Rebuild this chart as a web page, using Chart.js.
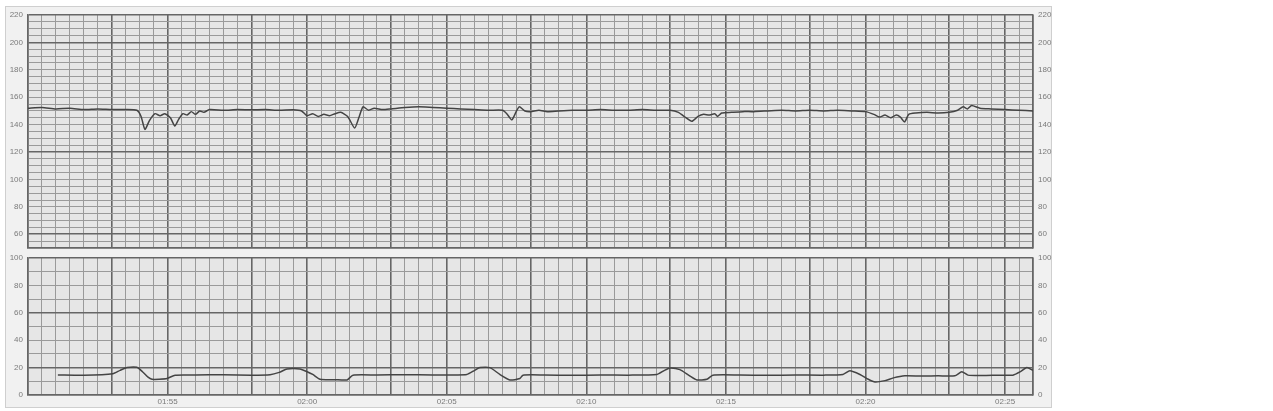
<!DOCTYPE html>
<html>
<head>
<meta charset="utf-8">
<script src="https://cdn.jsdelivr.net/npm/chart.js@4"></script>
<style>
  body { margin: 0; background: #fff; width: 1273px; height: 411px; overflow: hidden; position: relative; }
  #frame { position: absolute; left: 5px; top: 6px; width: 1045px; height: 400px; background: #f1f1f1; border: 1px solid #cfcfcf; }
  canvas { position: absolute; left: 0; }
  #fhr { top: 0; }
  #uc { top: 250px; }
</style>
</head>
<body>
<div id="frame"></div>
<canvas id="fhr" width="1060" height="252"></canvas>
<canvas id="uc" width="1060" height="161"></canvas>
<script>
// minutes from 01:50
const fhrTimes = [0, 0.5, 1, 1.5, 2, 2.5, 3, 3.5, 3.9,
  4.05, 4.19, 4.35, 4.55, 4.73, 4.9, 5.1, 5.26, 5.4, 5.55, 5.7, 5.85, 6.0, 6.15, 6.3, 6.5,
  7, 7.5, 8, 8.5, 9, 9.5, 9.8,
  10.0, 10.2, 10.4, 10.6, 10.8, 11.0, 11.2, 11.45, 11.7, 11.85, 12.0, 12.2, 12.4, 12.7,
  13, 13.5, 14, 14.5, 15, 15.5, 16, 16.5, 17, 17.15,
  17.33, 17.5, 17.6, 17.8, 18, 18.3, 18.6, 19, 19.5, 20, 20.5, 21, 21.5, 22, 22.5, 23, 23.3,
  23.5, 23.78, 24.0, 24.2, 24.4, 24.6, 24.7, 24.85, 25.2, 25.6, 26, 26.5, 27, 27.5, 28, 28.5, 29, 29.5, 30.0,
  30.3, 30.5, 30.7, 30.9, 31.1, 31.25, 31.4, 31.55, 31.8, 32.2, 32.6, 33, 33.3, 33.5, 33.65, 33.8, 34.1, 34.5, 35, 35.5, 36];
const fhrValues = [152, 152.5, 151.5, 152, 151, 151.5, 151, 151, 150.5,
  146, 136.5, 143, 148, 146.5, 148, 145, 139, 144, 148, 147, 149.5, 147.5, 150, 149, 151,
  150.5, 151, 150.8, 151, 150.5, 150.8, 150,
  146.5, 148, 146, 147.5, 146.5, 148, 149, 146, 137.5, 145, 153, 150.5, 152, 151,
  151.5, 152.5, 153, 152.5, 152, 151.5, 151, 150.5, 150.5, 148,
  143.5, 150, 153, 150, 149.5, 150.5, 149.5, 150, 150.5, 150.5, 151, 150.5, 150.5, 151, 150.5, 150.5, 149,
  146, 142.5, 146, 147.5, 147, 148, 146, 148.5, 149, 149.5, 149.5, 150, 150.5, 150, 150.5, 150, 150.5, 150, 149.5,
  147.5, 145.5, 147, 145, 147, 145.5, 142, 147.5, 148.5, 149, 148.5, 149, 150.5, 153, 151.5, 154, 152, 151.5, 151, 150.5, 150];

const ucTimes = [1.07, 2, 3.04, 3.3, 3.55, 3.9, 4.1, 4.3, 4.44, 4.7, 4.98, 5.27,
  6, 7, 8, 8.67, 9.0, 9.28, 9.74, 10.0, 10.2, 10.46, 11.0, 11.43, 11.64,
  12.5, 13.5, 14.5, 15.72, 16.0, 16.19, 16.55, 16.9, 17.26, 17.62, 17.73,
  18.5, 19.5, 20.5, 21.5, 22.53, 22.8, 23.0, 23.35, 23.7, 23.96, 24.32, 24.53,
  25.5, 26.5, 27.5, 28.5, 29.19, 29.44, 29.8, 30.1, 30.34, 30.7, 31.0, 31.41,
  32, 32.6, 33.2, 33.45, 33.67, 34.2, 34.8, 35.28, 35.55, 35.78, 36.0];
const ucValues = [14.6, 14.4, 15.5, 18, 20, 20.2, 17, 13, 11.5, 11.5, 12, 14.5,
  14.6, 14.8, 14.5, 14.8, 16.5, 19, 19, 17, 15, 11.5, 11.2, 11, 14.5,
  14.6, 14.8, 14.6, 15, 18, 20, 20, 15, 11, 12, 14.5,
  14.6, 14.4, 14.6, 14.5, 15, 18, 19.7, 18.5, 14, 11, 11.5, 14.5,
  14.6, 14.4, 14.6, 14.5, 15, 17.7, 15, 11.5, 9.5, 10.5, 12.5, 14,
  13.8, 14, 14, 17, 14.5, 14.2, 14.5, 14.5, 17, 20, 18];

const timeLabelMinutes = [5, 10, 15, 20, 25, 30, 35];
const timeLabels = ['01:55', '02:00', '02:05', '02:10', '02:15', '02:20', '02:25'];
const fhrTicks = [60, 80, 100, 120, 140, 160, 180, 200, 220];
const ucTicks = [0, 20, 40, 60, 80, 100];

const tickFont = { family: 'Liberation Sans', size: 8 };
const tickColor = '#7a7a7a';
const darkLine = '#666666';
const midLine = '#9a9a9a';

function pairs(xs, ys) {
    return xs.map(function(x, i) { return { x: x, y: ys[i] }; });
}

// grey paper behind the grid
const paperBg = {
    id: 'paperBg',
    beforeDraw: function(chart) {
        const a = chart.chartArea, ctx = chart.ctx;
        ctx.save();
        ctx.fillStyle = '#e6e6e6';
        ctx.fillRect(a.left, a.top, a.right - a.left, a.bottom - a.top);
        ctx.restore();
    }
};

function xIsDark(v) {
    if (Math.abs(v - Math.round(v)) > 0.01) return false;
    const m = Math.round(v) % 5;
    return v === 0 || v === 36 || m === 0 || m === 3;
}

function xScale(showLabels) {
    return {
        type: 'linear', min: 0, max: 36,
        grid: {
            drawTicks: false,
            color: function(ctx) { return xIsDark(ctx.tick.value) ? darkLine : midLine; },
            lineWidth: function(ctx) { return xIsDark(ctx.tick.value) ? 1.6 : 1; }
        },
        border: { display: true, color: darkLine, width: 1.5 },
        ticks: {
            display: showLabels, stepSize: 0.5, maxTicksLimit: 1000, autoSkip: false, maxRotation: 0,
            font: tickFont, color: tickColor, padding: 2,
            callback: function(v) {
                const i = timeLabelMinutes.indexOf(v);
                return i >= 0 ? timeLabels[i] : '';
            }
        },
        afterFit: function(scale) {
            scale.height = showLabels ? 16 : 0;
            scale.paddingLeft = 0; scale.paddingRight = 0;
        }
    };
}

function yScale(min, max, step, labels, darks, side) {
    function dark(v) { return darks.indexOf(v) >= 0 || v === max || v === min; }
    return {
        type: 'linear', position: side, min: min, max: max,
        grid: {
            display: side === 'left', drawTicks: false,
            color: function(ctx) { return dark(ctx.tick.value) ? darkLine : midLine; },
            lineWidth: function(ctx) { return dark(ctx.tick.value) ? 1.6 : 1; }
        },
        border: { display: true, color: darkLine, width: 1.5 },
        ticks: {
            stepSize: step, maxTicksLimit: 1000, autoSkip: false, padding: 5,
            font: tickFont, color: tickColor,
            callback: function(v) { return labels.indexOf(v) >= 0 ? String(v) : ''; }
        },
        afterFit: function(scale) {
            scale.width = side === 'left' ? 28 : 27;
            scale.paddingTop = 0; scale.paddingBottom = 0;
        }
    };
}

function traceSet(data) {
    return {
        data: data, borderColor: '#444444', borderWidth: 1.5,
        pointRadius: 0, tension: 0.2, fill: false
    };
}

new Chart(document.getElementById('fhr'), {
    type: 'line',
    data: { datasets: [traceSet(pairs(fhrTimes, fhrValues))] },
    options: {
        responsive: false, animation: false,
        layout: { padding: { top: 15, bottom: 4, left: 0, right: 0 } },
        plugins: { legend: { display: false }, tooltip: { enabled: false } },
        scales: {
            x: xScale(false),
            y: yScale(50, 220, 5, fhrTicks, [200, 120, 60], 'left'),
            y2: yScale(50, 220, 5, fhrTicks, [200, 120, 60], 'right')
        }
    },
    plugins: [paperBg]
});

new Chart(document.getElementById('uc'), {
    type: 'line',
    data: { datasets: [traceSet(pairs(ucTimes, ucValues))] },
    options: {
        responsive: false, animation: false,
        layout: { padding: { top: 8, bottom: 0, left: 0, right: 0 } },
        plugins: { legend: { display: false }, tooltip: { enabled: false } },
        scales: {
            x: xScale(true),
            y: yScale(0, 100, 10, ucTicks, [60, 20], 'left'),
            y2: yScale(0, 100, 10, ucTicks, [60, 20], 'right')
        }
    },
    plugins: [paperBg]
});
</script>
</body>
</html>
